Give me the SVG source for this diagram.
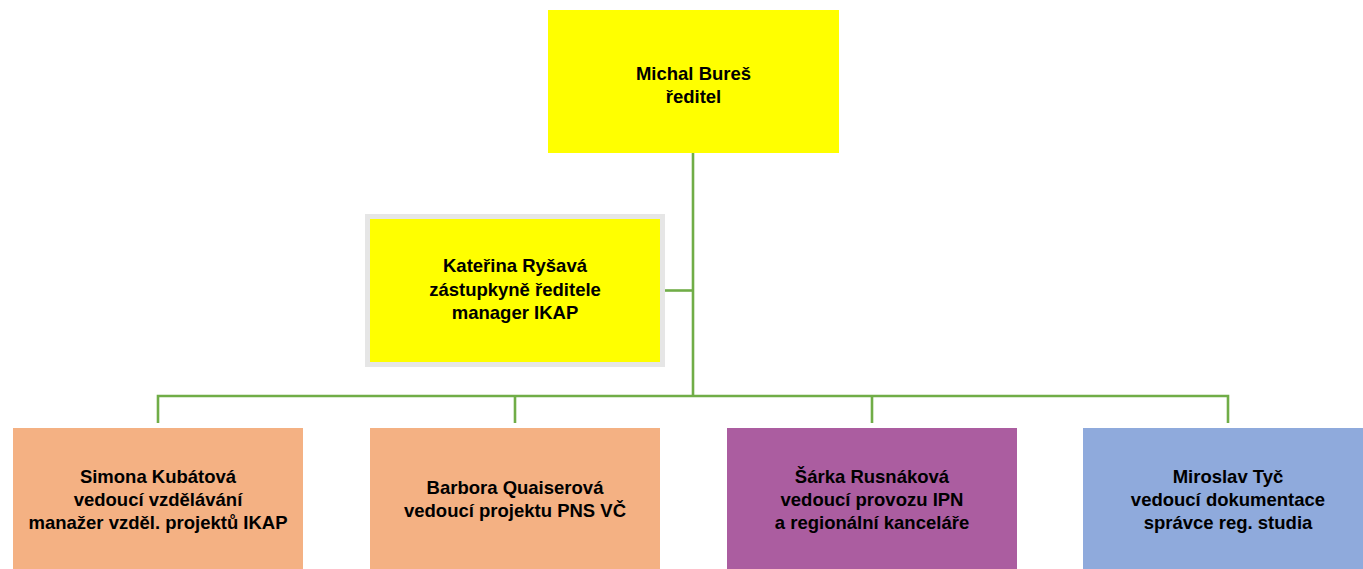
<svg xmlns="http://www.w3.org/2000/svg" width="1363" height="569" viewBox="0 0 1363 569">
<style>
text{font-family:"Liberation Sans",Arial,sans-serif;font-weight:bold;font-size:18.5px;fill:#000;text-anchor:middle}
.conn{stroke:#70AD47;stroke-width:2.6;fill:none}
.yellow{fill:#FFFF00}
.peach{fill:#F4B183}
.purple{fill:#AB5DA0}
.blue{fill:#8FAADC}
</style>
<rect width="1363" height="569" fill="#fff"/>
<g id="connectors">
<path class="conn" d="M693 153V396"/>
<path class="conn" d="M664 290.5H693"/>
<path class="conn" d="M158 423V396H1228V423"/>
<path class="conn" d="M515 396V423"/>
<path class="conn" d="M872 396V423"/>
</g>
<g id="node-bures">
<rect class="yellow" x="548" y="10" width="291" height="143"/>
<text x="693.5" y="80">Michal Bureš</text>
<text x="693.5" y="103">ředitel</text>
</g>
<g id="node-rysava">
<rect x="367.5" y="216.5" width="295" height="148" fill="#FFFF00" stroke="#E6E6E6" stroke-width="5"/>
<text x="515" y="272">Kateřina Ryšavá</text>
<text x="515" y="295.5">zástupkyně ředitele</text>
<text x="515" y="318.5">manager IKAP</text>
</g>
<g id="node-kubatova">
<rect class="peach" x="13" y="428" width="290" height="142"/>
<text x="158" y="483">Simona Kubátová</text>
<text x="158" y="506">vedoucí vzdělávání</text>
<text x="158" y="529">manažer vzděl. projektů IKAP</text>
</g>
<g id="node-quaiserova">
<rect class="peach" x="370" y="428" width="290" height="142"/>
<text x="515" y="494">Barbora Quaiserová</text>
<text x="515" y="517">vedoucí projektu PNS VČ</text>
</g>
<g id="node-rusnakova">
<rect class="purple" x="727" y="428" width="290" height="142"/>
<text x="872" y="483">Šárka Rusnáková</text>
<text x="872" y="506">vedoucí provozu IPN</text>
<text x="872" y="529">a regionální kanceláře</text>
</g>
<g id="node-tyc">
<rect class="blue" x="1083" y="428" width="290" height="142"/>
<text x="1228" y="483">Miroslav Tyč</text>
<text x="1228" y="506">vedoucí dokumentace</text>
<text x="1228" y="529">správce reg. studia</text>
</g>
</svg>
